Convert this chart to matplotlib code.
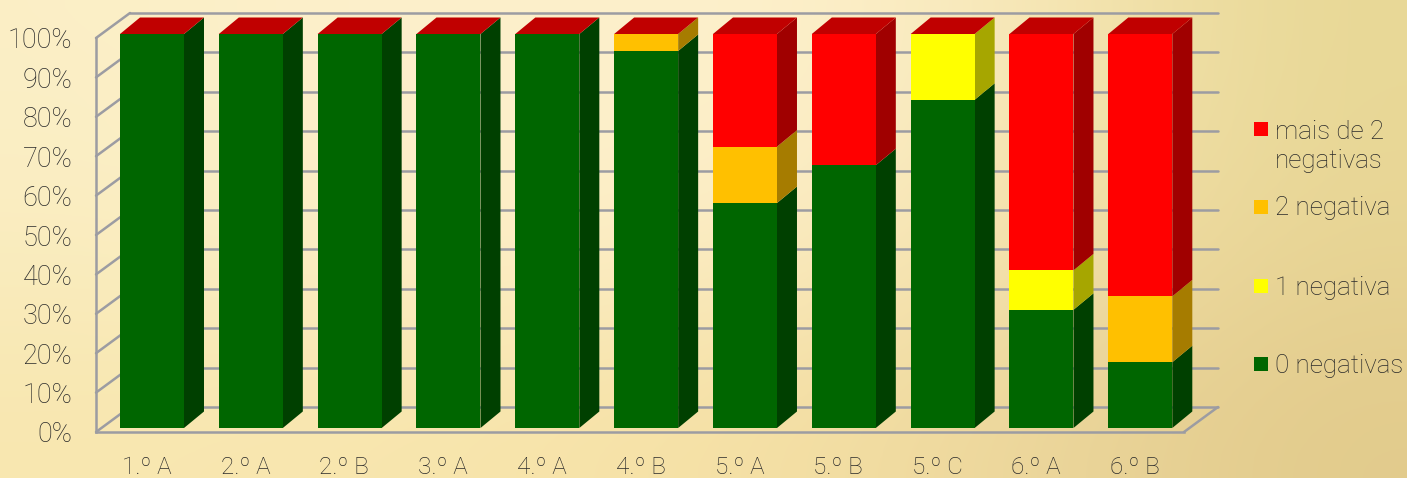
#!/usr/bin/env python3
"""Stacked 3D-look columns: share of students by number of negative marks."""

import matplotlib
matplotlib.use('Agg')
import matplotlib.pyplot as plt
import numpy as np
from matplotlib.colors import to_rgb
from matplotlib.patches import Rectangle
from matplotlib.transforms import Affine2D

plt.rcParams['font.family'] = ['Roboto', 'DejaVu Sans']

W, H = 1407, 478

# Data, bottom to top of each column
turmas = ['1.º A', '2.º A', '2.º B', '3.º A', '4.º A', '4.º B',
          '5.º A', '5.º B', '5.º C', '6.º A', '6.º B']
neg_0 = [100, 100, 100, 100, 100, 95.7, 57.1, 66.7, 83.3, 30, 16.7]
neg_1 = [0, 0, 0, 0, 0, 0, 0, 0, 16.7, 10, 0]
neg_2 = [0, 0, 0, 0, 0, 4.3, 14.3, 0, 0, 0, 16.7]
neg_3 = [0, 0, 0, 0, 0, 0, 28.6, 33.3, 0, 60, 66.6]
y_ticks = list(range(0, 101, 10))

legend_labels = ['mais de 2\nnegativas', '2 negativa', '1 negativa', '0 negativas']

# (front, side) colours
COLORS = {
    '0': ('#006600', '#004000'),
    '1': ('#FFFF00', '#A6A600'),
    '2': ('#FFC000', '#A67C00'),
    '3': ('#FF0000', '#A00000'),
}
CAP = '#C00000'
GRID = '#9C9CA2'
TEXT = '#2A2A2A'

# Pixel geometry of the fake 3D box
AX_L, AX_R, AX_T, AX_B = 96, 1184, 38, 432
X0, STEP, BAR_W = 152, 98.83, 64
WALL_DX, WALL_DY = 34, 25
BAR_DX, BAR_DY = 20, 16.5
BAR_LIFT = 4

fig = plt.figure(figsize=(W / 100, H / 100), dpi=100)

# Background gradient from a coarse grid of sampled colours
bg = fig.add_axes([0, 0, 1, 1], zorder=0)
samples = [
    ['#FBEFC6', '#FDF0CB', '#FDF0CB', '#FDF0CB', '#F6E6B4', '#E8D896'],
    ['#FAEDC0', '#FDEFC8', '#FDEFC8', '#FBEBC0', '#F3E0A8', '#E8D595'],
    ['#F8E7B0', '#F8E6AE', '#F7E3A8', '#F3DEA2', '#EBD59A', '#E2CB8C'],
]
bg.imshow(np.array([[to_rgb(c) for c in row] for row in samples]),
          extent=(0, W, H, 0), aspect='auto', interpolation='bicubic')
bg.set_xlim(0, W)
bg.set_ylim(H, 0)
bg.axis('off')

# Main axes sit on the front plane of the box
ax = fig.add_axes([AX_L / W, 1 - AX_B / H, (AX_R - AX_L) / W, (AX_B - AX_T) / H], zorder=1)
ax.patch.set_alpha(0)
ax.set_xlim((AX_L - X0) / STEP, (AX_R - X0) / STEP)
ax.set_ylim(0, 100)

sy = (AX_B - AX_T) / 100
x = np.arange(len(turmas))

# Back wall, side wall and floor
back = ax.transData + Affine2D().translate(WALL_DX, WALL_DY)
x0, x1 = ax.get_xlim()
line = dict(color=GRID, lw=1.8, clip_on=False, zorder=1, solid_capstyle='round')
for t in y_ticks:
    ax.plot([x0, x1], [t, t], transform=back, **line)
    ax.plot([x0, x0 + WALL_DX / STEP], [t, t + WALL_DY / sy], **line)
ax.plot([x1, x1 + WALL_DX / STEP], [0, WALL_DY / sy], **line)

# Columns
front = ax.transData + Affine2D().translate(0, BAR_LIFT)
dx, dy = BAR_DX / STEP, BAR_DY / sy
hw = BAR_W / STEP / 2
bottom = np.zeros(len(turmas))
for key, values in [('0', neg_0), ('1', neg_1), ('2', neg_2), ('3', neg_3)]:
    values = np.array(values, dtype=float)
    face, side = COLORS[key]
    ax.bar(x, values, BAR_W / STEP, bottom=bottom, color=face, transform=front,
           clip_on=False, zorder=3)
    for xi, b, v in zip(x, bottom, values):
        if v > 0:
            r = xi + hw
            ax.fill([r, r + dx, r + dx, r], [b, b + dy, b + v + dy, b + v],
                    color=side, lw=0, transform=front, clip_on=False, zorder=2.5)
    bottom += values

for xi, top in zip(x, bottom):
    ax.fill([xi - hw, xi + hw, xi + hw + dx, xi - hw + dx], [top, top, top + dy, top + dy],
            color=CAP, lw=0, transform=front, clip_on=False, zorder=2.5)

# Axis styling
for name in ['top', 'right']:
    ax.spines[name].set_visible(False)
for name in ['left', 'bottom']:
    ax.spines[name].set_color(GRID)
    ax.spines[name].set_linewidth(1.8)
    ax.spines[name].set_zorder(1)

ax.set_yticks(y_ticks)
ax.set_yticklabels([f'{t}%' for t in y_ticks], fontsize=19.5, fontweight='light', color=TEXT)
for lbl in ax.get_yticklabels():
    lbl.set_va('center_baseline')
ax.tick_params(axis='y', length=0, pad=17)
ax.set_xticks([])

label_shift = ax.transData + Affine2D().translate(-5.5, -32.5)
for xi, name in zip(x, turmas):
    ax.text(xi, 0, name, transform=label_shift, ha='center', va='center_baseline',
            fontsize=17.5, fontweight='light', color=TEXT, clip_on=False)

# Legend drawn in pixel coordinates on top
leg = fig.add_axes([0, 0, 1, 1], zorder=2)
leg.patch.set_alpha(0)
leg.set_xlim(0, W)
leg.set_ylim(H, 0)
leg.axis('off')
legend_y = [129, 207, 286, 364]
legend_colors = [COLORS['3'][0], COLORS['2'][0], COLORS['1'][0], COLORS['0'][0]]
for yy, label, color in zip(legend_y, legend_labels, legend_colors):
    leg.add_patch(Rectangle((1254, yy - 7), 14, 14, color=color, lw=0))
    text_y = yy + 17.5 if '\n' in label else yy + 1.5
    leg.text(1275, text_y, label, ha='left', va='center', fontsize=18.7,
             fontweight='light', color=TEXT, linespacing=1.25)

fig.savefig('out.png', dpi=100)
